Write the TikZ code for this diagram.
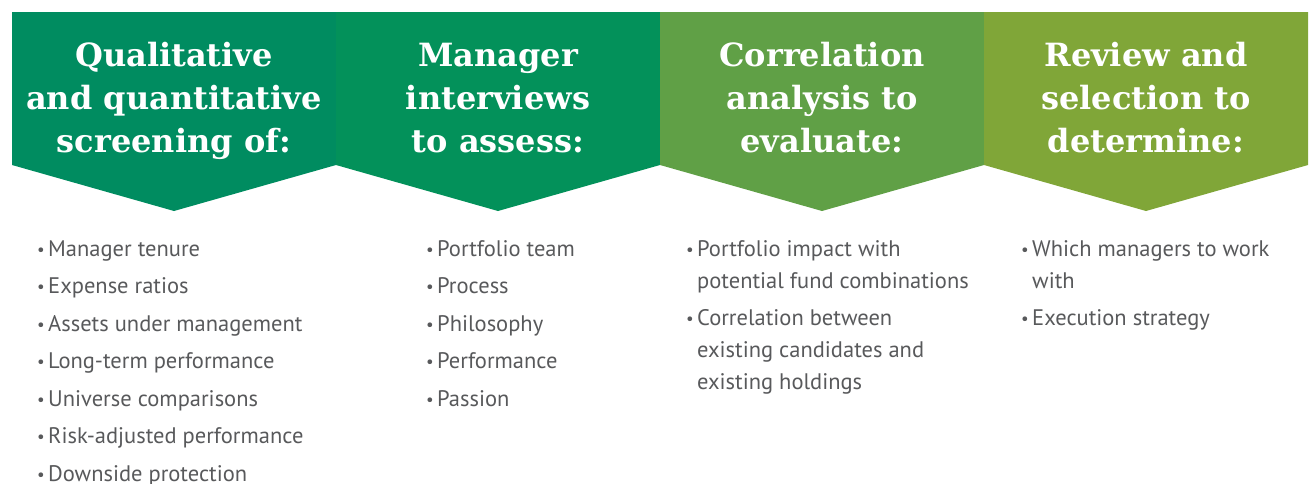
\documentclass[tikz,border=0pt]{standalone}
\usepackage{fontspec}
\setmainfont{PT Sans}
\newfontfamily\headfont{DejaVu Serif}
\definecolor{stepA}{RGB}{0,140,96}
\definecolor{stepB}{RGB}{3,145,90}
\definecolor{stepC}{RGB}{96,160,70}
\definecolor{stepD}{RGB}{128,166,56}
\definecolor{bodygray}{RGB}{88,89,91}
\newcommand{\bul}{\makebox[11pt][l]{\raisebox{1pt}{\scalebox{0.75}{\textbullet}}}}
\newcommand{\ind}{\hspace*{11pt}}

\begin{document}
\begin{tikzpicture}[x=1pt,y=-1pt]
	\tikzset{head/.style = {align=center, text=white, inner sep=0pt, font=\headfont\bfseries\fontsize{32}{43}\selectfont},
		items/.style = {align=left, text=bodygray, inner sep=0pt, font=\fontsize{22.5}{32}\selectfont}}
	\useasboundingbox (0,0) rectangle (1309,483);
	
	% chevron banners
	\foreach \c [count=\i from 0] in {stepA,stepB,stepC,stepD}
		\fill[\c] ({12+324*\i},12) -- ++(324,0) -- ++(0,153) -- ++(-162,46) -- ++(-162,-46) -- cycle;
	
	% headings (base = last line)
	\node[head, anchor=base] (SCREEN) at (174,152) {Qualitative\\and quantitative\\screening of:};
	\node[head, anchor=base] (INTERVIEW) at (498,152) {Manager\\interviews\\to assess:};
	\node[head, anchor=base] (CORREL) at (822,152) {Correlation\\analysis to\\evaluate:};
	\node[head, anchor=base] (REVIEW) at (1146,152) {Review and\\selection to\\determine:};
	
	\node[items, anchor=base west] (SCREENLIST) at (37,481)
	{\bul Manager tenure\\[5.5pt]
		\bul Expense ratios\\[5.5pt]
		\bul Assets under management\\[5.5pt]
		\bul Long-term performance\\[5.5pt]
		\bul Universe comparisons\\[5.5pt]
		\bul Risk-adjusted performance\\[5.5pt]
		\bul Downside protection};
	\node[items, anchor=base west] (INTERVIEWLIST) at (426,406)
	{\bul Portfolio team\\[5.5pt]
		\bul Process\\[5.5pt]
		\bul Philosophy\\[5.5pt]
		\bul Performance\\[5.5pt]
		\bul Passion};
	\node[items, anchor=base west] (CORRELLIST) at (686,389.5)
	{\bul Portfolio impact with\\
		\ind potential fund combinations\\[5.5pt]
		\bul Correlation between\\
		\ind existing candidates and\\
		\ind existing holdings};
	\node[items, anchor=base west] (REVIEWLIST) at (1021,325.5)
	{\bul Which managers to work\\
		\ind with\\[5.5pt]
		\bul Execution strategy};
	
\end{tikzpicture}
\end{document}
